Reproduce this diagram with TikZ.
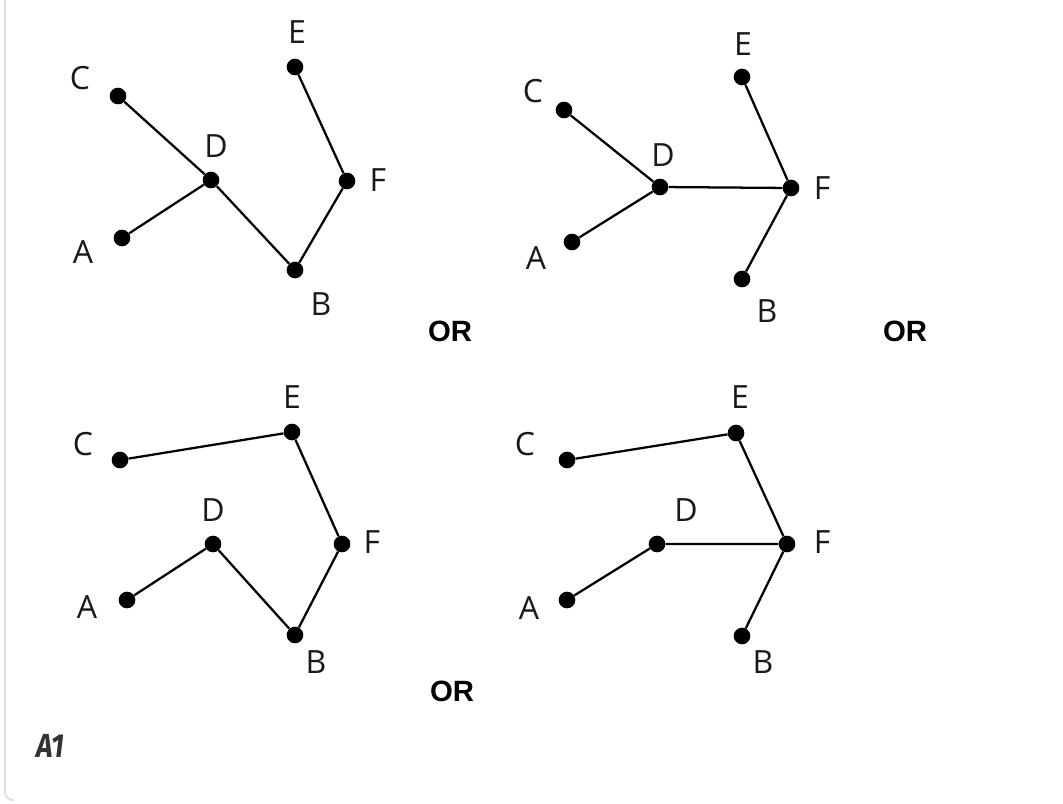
\documentclass[tikz,border=0pt]{standalone}
\usepackage{fontspec}
\setmainfont{Open Sans}
\newfontfamily\orfont{Liberation Sans}
\newfontfamily\afont{Fira Sans}
\begin{document}
\begin{tikzpicture}[x=0.75pt,y=-0.75pt,
  dot/.style={circle,fill=black,inner sep=0pt,minimum size=12.5pt},
  edge/.style={line width=1.7pt,black},
  lbl/.style={inner sep=0pt,font=\fontsize{24}{28}\selectfont,text=black!90},
  orlbl/.style={inner sep=0pt,font=\orfont\bfseries\fontsize{22}{26}\selectfont},
]
\useasboundingbox (0,0) rectangle (1063,803);
\fill[white] (0,0) rectangle (1063,803);
\draw[black!12,line width=1.5pt,rounded corners=6pt] (5,0) -- (5,800) -- (14,800);
% Panel 1
\node[dot] (c1) at (118,96) {};
\node[dot] (d1) at (211,180) {};
\node[dot] (a1) at (122,238) {};
\node[dot] (b1) at (295,270) {};
\node[dot] (f1) at (347,181) {};
\node[dot] (e1) at (295,67) {};
\draw[edge] (c1) -- (d1) (a1) -- (d1) (d1) -- (b1) (b1) -- (f1) (f1) -- (e1);
\node[lbl] (lc1) at (80,78) {C};
\node[lbl] (ld1) at (216,146) {D};
\node[lbl] (la1) at (83,252) {A};
\node[lbl] (lb1) at (321,304) {B};
\node[lbl] (lf1) at (378,180) {F};
\node[lbl] (le1) at (297,32) {E};
\node[orlbl] (or1) at (450,331) {OR};
% Panel 2
\node[dot] (c2) at (564,110) {};
\node[dot] (d2) at (660,187) {};
\node[dot] (a2) at (572,242) {};
\node[dot] (f2) at (791,188) {};
\node[dot] (e2) at (742,77) {};
\node[dot] (b2) at (742,279) {};
\draw[edge] (c2) -- (d2) (a2) -- (d2) (d2) -- (f2) (e2) -- (f2) (f2) -- (b2);
\node[lbl] (lc2) at (533,91) {C};
\node[lbl] (ld2) at (663,155) {D};
\node[lbl] (la2) at (536,258) {A};
\node[lbl] (lf2) at (822,188) {F};
\node[lbl] (le2) at (743,44) {E};
\node[lbl] (lb2) at (767,311) {B};
\node[orlbl] (or2) at (905,331) {OR};
% Panel 3
\node[dot] (c3) at (120,460) {};
\node[dot] (e3) at (292,432) {};
\node[dot] (d3) at (213,544) {};
\node[dot] (a3) at (127,600) {};
\node[dot] (b3) at (295,635) {};
\node[dot] (f3) at (342,544) {};
\draw[edge] (c3) -- (e3) (e3) -- (f3) (f3) -- (b3) (b3) -- (d3) (d3) -- (a3);
\node[lbl] (lc3) at (83,444) {C};
\node[lbl] (le3) at (292,397) {E};
\node[lbl] (ld3) at (213,510) {D};
\node[lbl] (la3) at (87,607) {A};
\node[lbl] (lf3) at (372,542) {F};
\node[lbl] (lb3) at (316,662) {B};
\node[orlbl] (or3) at (452,691) {OR};
% Panel 4
\node[dot] (c4) at (567,460) {};
\node[dot] (e4) at (736,433) {};
\node[dot] (d4) at (657,544) {};
\node[dot] (a4) at (567,600) {};
\node[dot] (f4) at (787,544) {};
\node[dot] (b4) at (742,636) {};
\draw[edge] (c4) -- (e4) (e4) -- (f4) (d4) -- (f4) (a4) -- (d4) (f4) -- (b4);
\node[lbl] (lc4) at (525,444) {C};
\node[lbl] (le4) at (740,397) {E};
\node[lbl] (ld4) at (686,510) {D};
\node[lbl] (la4) at (529,608) {A};
\node[lbl] (lf4) at (822,542) {F};
\node[lbl] (lb4) at (763,662) {B};
% A1
\node[inner sep=0pt,text=black!80,font=\afont\bfseries\itshape\fontsize{25}{30}\selectfont] (a1lbl) at (50,746) {\scalebox{0.85}[1]{A1}};
\end{tikzpicture}
\end{document}
